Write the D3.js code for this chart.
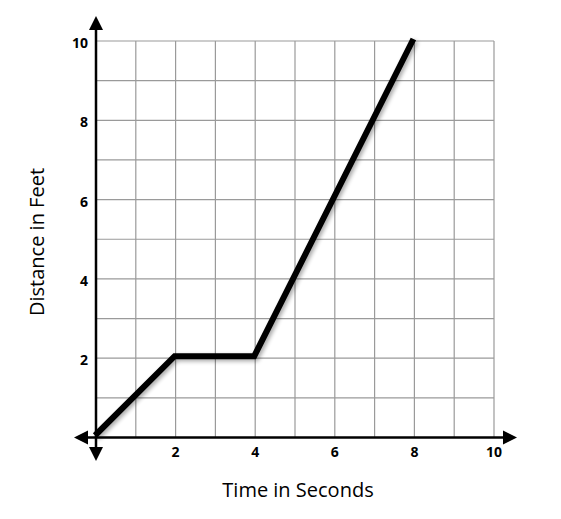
<!DOCTYPE html>
<html><head><meta charset="utf-8">
<script src="https://cdn.jsdelivr.net/npm/d3@7"></script>
<style>body{margin:0;background:#fff}svg{display:block}</style>
</head><body>
<svg id="c" width="561" height="519"></svg>
<script>
const timeSeconds = [0, 2, 4, 8];
const distanceFeet = [0, 2, 2, 10];
const xTicks = [2, 4, 6, 8, 10];
const yTicks = [2, 4, 6, 8, 10];
const xTitle = "Time in Seconds";
const yTitle = "Distance in Feet";

const svg = d3.select("#c");
const x = d3.scaleLinear().domain([0, 10]).range([96, 494]);
const y = d3.scaleLinear().domain([0, 10]).range([437.5, 41]);

const defs = svg.append("defs");
const f = defs.append("filter").attr("id","sh").attr("x","-20%").attr("y","-20%").attr("width","140%").attr("height","140%");
f.append("feGaussianBlur").attr("in","SourceAlpha").attr("stdDeviation",2).attr("result","b");
f.append("feOffset").attr("in","b").attr("dx",2).attr("dy",2).attr("result","o");
f.append("feComponentTransfer").attr("in","o").attr("result","o2").append("feFuncA").attr("type","linear").attr("slope",0.35);
const m = f.append("feMerge"); m.append("feMergeNode").attr("in","o2"); m.append("feMergeNode").attr("in","SourceGraphic");

// grid
const g = svg.append("g");
g.selectAll(".vx").data(d3.range(1, 11)).join("line")
  .attr("x1", d => x(d)).attr("x2", d => x(d)).attr("y1", y(0)).attr("y2", y(10))
  .attr("stroke", "#9a9a9a").attr("stroke-width", 1.2);
g.selectAll(".hy").data(d3.range(1, 11)).join("line")
  .attr("y1", d => y(d)).attr("y2", d => y(d)).attr("x1", x(0)).attr("x2", x(10))
  .attr("stroke", "#9a9a9a").attr("stroke-width", 1.2);

// axes
svg.append("line").attr("x1", 80).attr("x2", 506).attr("y1", y(0)).attr("y2", y(0)).attr("stroke","#000").attr("stroke-width",2.5);
svg.append("line").attr("x1", x(0)).attr("x2", x(0)).attr("y1", 28).attr("y2", 450).attr("stroke","#000").attr("stroke-width",2.5);
const X0 = x(0), Y0 = y(0);
// arrowheads
svg.append("path").attr("d", `M${X0},16 L${X0-7},30 L${X0+7},30 Z`).attr("fill","#000");
svg.append("path").attr("d", `M${X0},461 L${X0-7},447 L${X0+7},447 Z`).attr("fill","#000");
svg.append("path").attr("d", `M74,${Y0} L88,${Y0-7} L88,${Y0+7} Z`).attr("fill","#000");
svg.append("path").attr("d", `M517,${Y0} L503,${Y0-7} L503,${Y0+7} Z`).attr("fill","#000");

// tick labels
svg.selectAll(".xt").data(xTicks).join("text")
  .attr("x", d => x(d)).attr("y", 457).attr("text-anchor","middle")
  .attr("font-family","'Open Sans', sans-serif").attr("font-weight","bold").attr("font-size",14)
  .text(d => d);
svg.selectAll(".yt").data(yTicks).join("text")
  .attr("x", 88).attr("y", d => y(d) + 7).attr("text-anchor","end")
  .attr("font-family","'Open Sans', sans-serif").attr("font-weight","bold").attr("font-size",14)
  .text(d => d);

// titles
svg.append("text").attr("x", 298).attr("y", 497).attr("text-anchor","middle")
  .attr("font-family","'Open Sans', sans-serif").attr("font-size",20).text(xTitle);
svg.append("text").attr("transform","translate(44,242) rotate(-90)").attr("text-anchor","middle")
  .attr("font-family","'Open Sans', sans-serif").attr("font-size",20).text(yTitle);

// data line
const pts = timeSeconds.map((t,i)=>[t, distanceFeet[i]]);
svg.append("path").datum(pts)
  .attr("transform","translate(-1,-2)")
  .attr("d", d3.line().x(d=>x(d[0])).y(d=>y(d[1])))
  .attr("fill","none").attr("stroke","#000").attr("stroke-width",6)
  .attr("stroke-linejoin","miter").attr("filter","url(#sh)");
</script>
</body></html>
